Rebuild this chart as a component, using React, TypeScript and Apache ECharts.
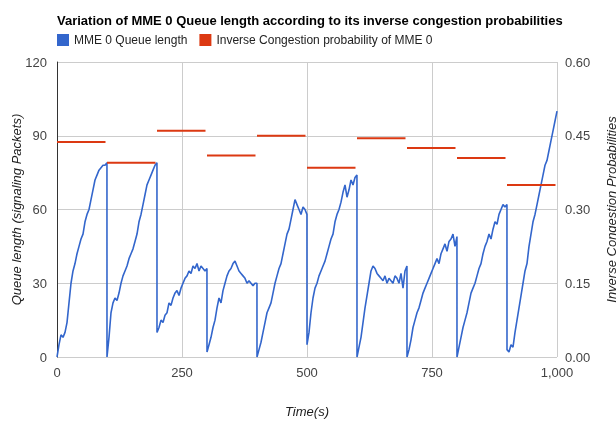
import React, { useEffect, useRef } from "react";
import * as echarts from "echarts";

const segStarts = [0, 100, 200, 300, 400, 500, 600, 700, 800, 900];
const segValues: number[][] = [
  [0,5,9,8,10,14,22,30,35,38,42,45,48,50,55,58,60,64,68,72,74,76,77,78,78],
  [0,8,18,22,24,23,26,30,33,35,37,40,42,44,47,50,55,58,62,66,70,72,74,76,78],
  [10,12,15,14,17,18,22,21,24,26,27,25,28,30,32,33,35,34,37,36,38,35,37,36,35],
  [2,5,8,12,15,20,24,22,27,30,33,35,36,38,39,37,35,34,33,32,30,31,30,29,30],
  [0,3,6,10,14,18,20,22,26,30,33,36,38,42,46,50,52,56,60,64,62,60,58,61,60],
  [5,10,18,24,28,30,33,35,37,39,42,45,48,50,55,58,60,63,67,70,65,68,72,70,73],
  [0,4,8,14,20,25,30,35,37,36,34,33,32,31,33,30,32,31,30,33,32,30,34,28,35],
  [0,3,7,12,15,18,20,23,26,28,30,32,34,36,38,40,38,42,44,46,43,47,48,50,45],
  [0,4,8,12,15,18,22,26,28,30,33,36,38,42,45,47,50,48,52,55,54,58,60,62,61],
  [3,2,5,4,10,15,20,25,30,35,38,45,50,55,58,62,66,70,74,78,80,84,88,92,96],
];
const segPeaks = [79, 79, 36, 30, 58, 74, 37, 49, 62, 100];
const congestion = [0.4375, 0.395, 0.46, 0.41, 0.45, 0.385, 0.445, 0.425, 0.405, 0.35];

export default function App() {
  const ref = useRef<HTMLDivElement>(null);
  useEffect(() => {
    const chart = echarts.init(ref.current!, null, { renderer: "svg" });
    const queue: any[] = [];
    segStarts.forEach((s, i) => {
      segValues[i].forEach((v, j) => queue.push([s + j * 4, v]));
      queue.push([i === 9 ? 1000 : s + 99.9, segPeaks[i]]);
    });
    const cong: any[] = [];
    segStarts.forEach((s, i) => {
      cong.push([s, congestion[i]], [s + 97, congestion[i]], "-");
    });
    const font = "'Liberation Sans', Arial, sans-serif";
    chart.setOption({
      animation: false,
      textStyle: { fontFamily: font },
      title: {
        text: "Variation of MME 0 Queue length according to its inverse congestion probabilities",
        left: 52, top: 9,
        textStyle: { fontSize: 13, fontWeight: "bold", color: "#000", fontFamily: font },
      },
      legend: {
        left: 52, top: 29, icon: "rect", itemWidth: 12, itemHeight: 12, itemGap: 12,
        textStyle: { fontSize: 12, color: "#222", fontFamily: font },
        data: ["MME 0 Queue length", "Inverse Congestion probability of MME 0"],
      },
      grid: { left: 57, right: 59, top: 62, bottom: 66, containLabel: false, outerBoundsMode: "none" },
      xAxis: {
        type: "value", min: 0, max: 1000, interval: 250,
        name: "Time(s)", nameLocation: "middle", nameGap: 48, nameMoveOverlap: false,
        nameTextStyle: { fontStyle: "italic", fontSize: 13, color: "#222" },
        axisLine: { show: false }, axisTick: { show: false },
        axisLabel: { color: "#444", fontSize: 13, margin: 9,
          formatter: (v: number) => v.toLocaleString("en-US") },
        splitLine: { lineStyle: { color: "#ccc" } },
      },
      yAxis: [
        {
          type: "value", min: 0, max: 120, interval: 30,
          name: "Queue length (signaling Packets)", nameLocation: "middle", nameGap: 34, nameMoveOverlap: false,
          nameTextStyle: { fontStyle: "italic", fontSize: 13, color: "#222" },
          axisLine: { show: true, lineStyle: { color: "#333" } }, axisTick: { show: false },
          axisLabel: { color: "#444", fontSize: 13, margin: 10 },
          splitLine: { lineStyle: { color: "#ccc" } },
        },
        {
          type: "value", min: 0, max: 0.6, interval: 0.15,
          name: "Inverse Congestion Probabilities", nameLocation: "middle", nameGap: 48, nameMoveOverlap: false,
          nameTextStyle: { fontStyle: "italic", fontSize: 13, color: "#222" },
          axisLine: { show: false }, axisTick: { show: false },
          axisLabel: { color: "#444", fontSize: 13, formatter: (v: number) => v.toFixed(2) },
          splitLine: { show: false },
        },
      ],
      series: [
        {
          name: "MME 0 Queue length", type: "line", data: queue, showSymbol: false,
          lineStyle: { color: "#3366cc", width: 1.6 }, itemStyle: { color: "#3366cc" },
        },
        {
          name: "Inverse Congestion probability of MME 0", type: "line", yAxisIndex: 1,
          data: cong, showSymbol: false, connectNulls: false,
          lineStyle: { color: "#dc3912", width: 2 }, itemStyle: { color: "#dc3912" },
        },
      ],
    });
    return () => chart.dispose();
  }, []);
  return <div ref={ref} style={{ position: "fixed", left: 0, top: 0, width: 616, height: 423 }} />;
}
